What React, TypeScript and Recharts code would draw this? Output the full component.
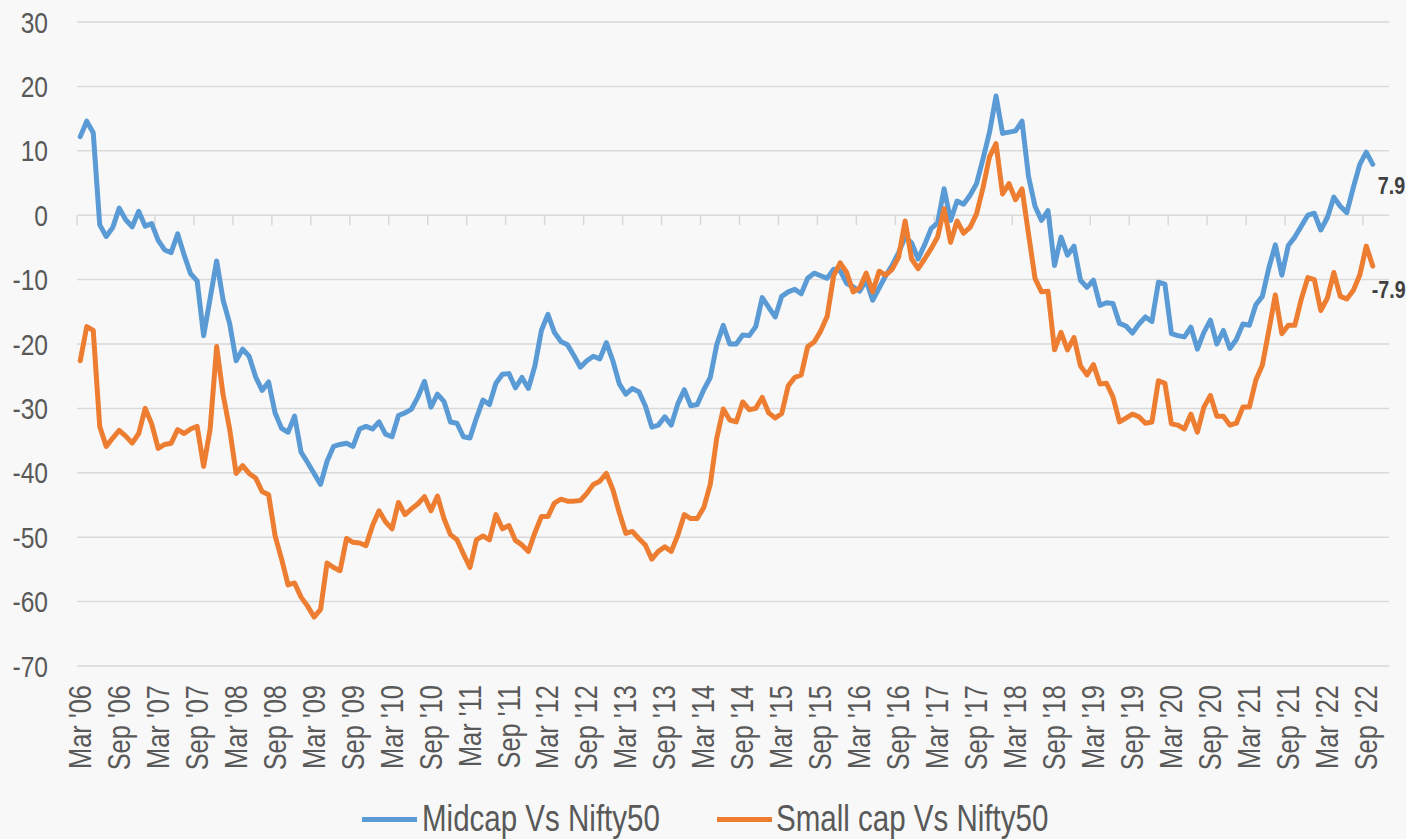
import React from "react";
import {
  LineChart,
  Line,
  XAxis,
  YAxis,
  CartesianGrid,
  Legend,
  LabelList,
  ReferenceLine,
} from "recharts";

// half-yearly axis labels, one per 6 months from Mar '06
const tickLabels = [
  "Mar '06", "Sep '06", "Mar '07", "Sep '07", "Mar '08", "Sep '08",
  "Mar '09", "Sep '09", "Mar '10", "Sep '10", "Mar '11", "Sep '11",
  "Mar '12", "Sep '12", "Mar '13", "Sep '13", "Mar '14", "Sep '14",
  "Mar '15", "Sep '15", "Mar '16", "Sep '16", "Mar '17", "Sep '17",
  "Mar '18", "Sep '18", "Mar '19", "Sep '19", "Mar '20", "Sep '20",
  "Mar '21", "Sep '21", "Mar '22", "Sep '22",
];

const yTicks = [30, 20, 10, 0, -10, -20, -30, -40, -50, -60, -70];

// monthly values, Mar '06 .. Oct '22
const midcap = [
  12.2, 14.6, 12.8, -1.5, -3.3, -1.9, 1.1, -0.7, -1.8, 0.6,
  -1.7, -1.3, -3.9, -5.4, -5.8, -2.9, -6.2, -9.1, -10.2, -18.7,
  -12.9, -7.1, -13.2, -16.8, -22.6, -20.8, -21.9, -25.1, -27.2, -25.9,
  -30.7, -33.1, -33.7, -31.2, -36.8, -38.4, -40.1, -41.8, -38.2, -35.9,
  -35.6, -35.4, -35.9, -33.2, -32.8, -33.2, -32.1, -34.0, -34.4, -31.1,
  -30.7, -30.1, -28.2, -25.8, -29.8, -27.8, -28.9, -32.1, -32.3, -34.4,
  -34.6, -31.5, -28.7, -29.4, -26.1, -24.7, -24.6, -26.8, -25.2, -26.9,
  -23.4, -17.9, -15.4, -18.2, -19.6, -20.1, -21.8, -23.6, -22.6, -21.9,
  -22.3, -19.8, -22.6, -26.2, -27.8, -26.9, -27.4, -29.6, -32.9, -32.6,
  -31.3, -32.6, -29.3, -27.1, -29.6, -29.4, -27.1, -25.2, -20.1, -17.1,
  -20.0, -20.0, -18.6, -18.7, -17.3, -12.8, -14.3, -15.8, -12.6, -11.9,
  -11.5, -12.2, -9.8, -9.0, -9.4, -9.8, -8.4, -8.6, -10.6, -11.1,
  -11.8, -10.1, -13.2, -11.3, -9.4, -7.8, -5.8, -3.4, -4.3, -6.8,
  -4.6, -2.1, -1.2, 4.1, -0.8, 2.2, 1.7, 3.1, 4.9, 8.8,
  12.9, 18.5, 12.7, 12.9, 13.1, 14.6, 6.0, 1.4, -0.8, 0.7,
  -7.8, -3.4, -6.2, -4.8, -10.1, -11.2, -10.1, -14.0, -13.6, -13.7,
  -16.8, -17.2, -18.3, -16.9, -15.8, -16.5, -10.4, -10.7, -18.4, -18.7,
  -18.9, -17.4, -20.8, -18.2, -16.3, -20.0, -17.9, -20.7, -19.3, -16.9,
  -17.1, -13.9, -12.6, -8.2, -4.6, -9.3, -4.7, -3.4, -1.7, 0.0,
  0.3, -2.3, -0.4, 2.8, 1.4, 0.4, 4.3, 7.9, 9.8, 7.9,
];

const smallcap = [
  -22.6, -17.3, -17.9, -32.8, -35.9, -34.6, -33.4, -34.3, -35.4, -33.9,
  -30.0, -32.4, -36.2, -35.6, -35.4, -33.3, -33.9, -33.2, -32.8, -39.0,
  -33.2, -20.4, -27.9, -33.2, -40.1, -38.9, -40.1, -40.8, -42.9, -43.4,
  -49.8, -53.4, -57.4, -57.1, -59.3, -60.7, -62.4, -61.2, -54.0, -54.7,
  -55.2, -50.2, -50.8, -50.9, -51.3, -48.2, -45.9, -47.6, -48.7, -44.6,
  -46.5, -45.6, -44.8, -43.7, -45.9, -43.6, -47.1, -49.6, -50.4, -52.6,
  -54.7, -50.4, -49.8, -50.4, -46.5, -48.7, -48.2, -50.5, -51.2, -52.2,
  -49.3, -46.8, -46.8, -44.7, -44.1, -44.4, -44.4, -44.3, -43.2, -41.8,
  -41.3, -40.1, -42.6, -46.2, -49.4, -49.1, -50.2, -51.2, -53.4, -52.2,
  -51.5, -52.2, -49.7, -46.5, -47.1, -47.1, -45.4, -41.8, -34.6, -30.1,
  -31.8, -32.1, -29.0, -30.2, -30.0, -28.3, -30.7, -31.5, -30.8, -26.5,
  -25.2, -24.8, -20.4, -19.7, -18.0, -15.7, -9.4, -7.4, -8.9, -11.9,
  -11.3, -9.0, -11.9, -8.7, -9.3, -8.4, -6.5, -0.9, -6.8, -8.3,
  -6.8, -5.2, -3.4, 1.0, -4.2, -0.9, -2.8, -1.9, 0.2, 4.3,
  9.1, 11.1, 3.3, 4.9, 2.4, 4.1, -2.9, -9.8, -11.9, -11.8,
  -20.9, -18.2, -20.9, -19.0, -23.4, -24.8, -23.2, -26.2, -26.1, -28.2,
  -32.1, -31.5, -30.9, -31.3, -32.3, -32.1, -25.7, -26.1, -32.4, -32.6,
  -33.2, -30.9, -33.7, -29.8, -28.0, -31.2, -31.2, -32.6, -32.3, -29.8,
  -29.8, -25.6, -23.3, -17.9, -12.4, -18.4, -17.1, -17.1, -13.0, -9.7,
  -10.0, -14.8, -12.9, -8.9, -12.6, -13.0, -11.7, -9.3, -4.8, -7.9,
];

const BLUE = "#5b9bd5";
const ORANGE = "#ed7d31";
const TEXT = "#595959";
const GRID = "#d9d9d9";
const FONT = "'Liberation Sans', Arial, sans-serif";
const NARROW = 0.82; // squeeze Liberation Sans to an Arial Narrow look

// x = month index from Mar '06; points sit mid-month, ticks at month start
const data = midcap.map((v, i) => ({ t: i + 0.5, midcap: v, smallcap: smallcap[i] }));
const tickPos = tickLabels.map((_, k) => k * 6);
const last = data.length - 1;

const XTick = ({ x, y, payload }: any) => {
  const k = Math.round(payload.value / 6);
  return (
    <text
      transform={`translate(${x + 3}, ${y}) rotate(-90) scale(${NARROW}, 1)`}
      dy="0.35em"
      textAnchor="end"
      fill={TEXT}
      fontSize={31}
      fontFamily={FONT}
    >
      {tickLabels[k]}
    </text>
  );
};

const YTick = ({ x, y, payload }: any) => (
  <text
    transform={`translate(${x}, ${y}) scale(${NARROW}, 1)`}
    dy="0.35em"
    textAnchor="end"
    fill={TEXT}
    fontSize={30}
    fontFamily={FONT}
  >
    {payload.value}
  </text>
);

const endLabel = (dx: number, dy: number) => (props: any) => {
  if (props.index !== last) return null;
  return (
    <text
      transform={`translate(${props.x + dx}, ${props.y + dy}) scale(${NARROW}, 1)`}
      dy="0.35em"
      fill="#404040"
      fontSize={24}
      fontWeight="bold"
      fontFamily={FONT}
    >
      {props.value}
    </text>
  );
};

const LegendText = ({ w, children }: any) => (
  <span style={{ display: "inline-block", width: w, whiteSpace: "nowrap" }}>
    <span style={{ display: "inline-block", transform: `scaleX(${NARROW})`, transformOrigin: "left center" }}>
      {children}
    </span>
  </span>
);

const LegendBox = () => (
  <div
    style={{
      display: "flex",
      justifyContent: "center",
      alignItems: "center",
      height: 40,
      paddingLeft: 30,
      fontFamily: FONT,
      fontSize: 36,
      color: TEXT,
    }}
  >
    <span style={{ display: "inline-block", width: 55, height: 5, background: BLUE, marginRight: 5 }} />
    <LegendText w={243}>Midcap Vs Nifty50</LegendText>
    <span style={{ display: "inline-block", width: 55, height: 5, background: ORANGE, marginLeft: 52, marginRight: 4 }} />
    <LegendText w={282}>Small cap Vs Nifty50</LegendText>
  </div>
);

export default function App() {
  return (
    <div style={{ position: "fixed", left: 0, top: 0, width: 1406, height: 839, background: "#f8f8f8", overflow: "hidden" }}>
      <LineChart width={1406} height={839} data={data} margin={{ top: 22, right: 17, left: 0, bottom: 0 }}>
        <CartesianGrid vertical={false} stroke={GRID} strokeWidth={1.5} />
        <XAxis
          type="number"
          dataKey="t"
          domain={[0, 202]}
          ticks={tickPos}
          interval={0}
          axisLine={false}
          tickLine={false}
          tickSize={0}
          tickMargin={19}
          height={133}
          tick={<XTick />}
        />
        <YAxis
          domain={[-70, 30]}
          ticks={yTicks}
          interval={0}
          axisLine={false}
          tickLine={false}
          tickSize={0}
          tickMargin={29}
          width={77}
          tick={<YTick />}
        />
        {tickPos.map((p) => (
          <ReferenceLine
            key={p}
            segment={[{ x: p, y: 0 }, { x: p, y: -1.55 }]}
            stroke={GRID}
            strokeWidth={1.5}
          />
        ))}
        <Legend verticalAlign="bottom" height={40} content={<LegendBox />} />
        <Line
          type="linear"
          dataKey="midcap"
          name="Midcap Vs Nifty50"
          stroke={BLUE}
          strokeWidth={5}
          strokeLinejoin="round"
          strokeLinecap="round"
          dot={false}
          isAnimationActive={false}
        >
          <LabelList dataKey="midcap" content={endLabel(5, 21)} />
        </Line>
        <Line
          type="linear"
          dataKey="smallcap"
          name="Small cap Vs Nifty50"
          stroke={ORANGE}
          strokeWidth={5}
          strokeLinejoin="round"
          strokeLinecap="round"
          dot={false}
          isAnimationActive={false}
        >
          <LabelList dataKey="smallcap" content={endLabel(-1, 24)} />
        </Line>
      </LineChart>
    </div>
  );
}
